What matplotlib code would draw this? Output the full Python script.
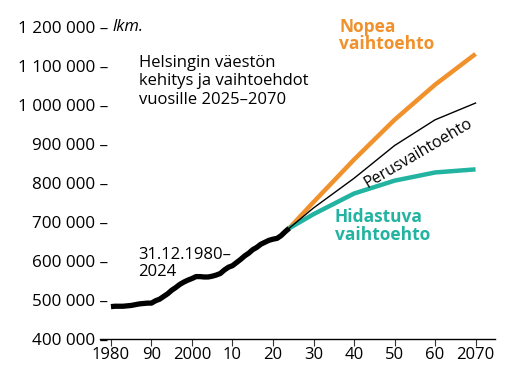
import matplotlib
matplotlib.use("Agg")
import matplotlib.pyplot as plt

plt.rcParams['font.family'] = ['Open Sans', 'DejaVu Sans']

hist_years = list(range(1980, 2025))
hist_pop = [483, 484, 484, 484, 485, 486, 488, 490, 491, 492,
            492, 498, 502, 509, 516, 525, 532, 540, 546, 551,
            555, 560, 560, 559, 559, 561, 564, 568, 577, 584,
            588, 596, 604, 613, 620, 629, 635, 643, 648, 653,
            656, 658, 665, 675, 684]
hist_pop = [v * 1000 for v in hist_pop]

proj_years = [2024, 2030, 2040, 2050, 2060, 2070]
nopea = [684000, 751000, 860000, 962000, 1052000, 1131000]
perus = [684000, 736000, 812000, 896000, 962000, 1005000]
hidas = [684000, 720000, 773000, 806000, 827000, 835000]

xticks = [1980, 1990, 2000, 2010, 2020, 2030, 2040, 2050, 2060, 2070]
xlabels = ['1980', '90', '2000', '10', '20', '30', '40', '50', '60', '2070']
yticks = [400000, 500000, 600000, 700000, 800000, 900000, 1000000, 1100000, 1200000]
ylabels = ['400 000 –', '500 000 –', '600 000 –', '700 000 –', '800 000 –',
           '900 000 –', '1 000 000 –', '1 100 000 –', '1 200 000 –']

orange = '#F0912C'
teal = '#22B3A1'

fig = plt.figure(figsize=(5.12, 3.76), dpi=100)
ax = fig.add_axes([100/512, 1 - 339/376, 395/512, 312/376])
ax.set_xlim(1977.3, 2074.8)
ax.set_ylim(400000, 1200000)

ax.plot(proj_years, nopea, color=orange, lw=3.2, solid_capstyle='butt', clip_on=False)
ax.plot(proj_years, hidas, color=teal, lw=3.2, solid_capstyle='butt', clip_on=False)
ax.plot(proj_years, perus, color='black', lw=1.0, clip_on=False)
ax.plot(hist_years, hist_pop, color='black', lw=3.8, solid_capstyle='butt', clip_on=False)

for s in ['top', 'right', 'left']:
    ax.spines[s].set_visible(False)
ax.spines['bottom'].set_linewidth(1.0)

fs = 12
ax.set_xticks(xticks)
ax.set_xticklabels(xlabels, fontsize=fs)
ax.tick_params(axis='x', length=5, width=0.8, pad=1.0, color='#333333')
ax.set_yticks(yticks)
ax.set_yticklabels(ylabels, fontsize=12.3)
ax.tick_params(axis='y', length=0, pad=-6)

ax.text(1980.4, 1200000, 'lkm.', fontsize=fs, style='italic', va='center', ha='left')

ax.text(1987.0, 1129000, 'Helsingin väestön\nkehitys ja vaihtoehdot\nvuosille 2025–2070',
        fontsize=fs, va='top', ha='left', linespacing=1.22)
ax.text(1986.8, 636000, '31.12.1980–\n2024', fontsize=fs, va='top', ha='left', linespacing=1.1)

ax.text(2036.3, 1224000, 'Nopea\nvaihtoehto', fontsize=12.5, fontweight='bold', color=orange,
        va='top', ha='left', linespacing=0.98)
ax.text(2035.3, 735000, 'Hidastuva\nvaihtoehto', fontsize=12.5, fontweight='bold', color=teal,
        va='top', ha='left', linespacing=0.98)
ax.text(2056.0, 877000, 'Perusvaihtoehto', fontsize=11.5, rotation=30.5,
        rotation_mode='anchor', va='center', ha='center')

fig.savefig('out.png', dpi=100)
